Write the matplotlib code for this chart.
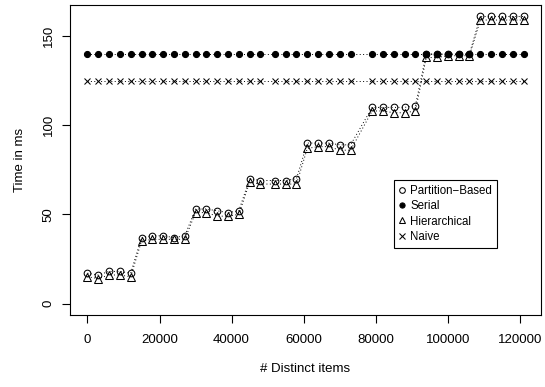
import matplotlib
matplotlib.use("Agg")
import matplotlib.pyplot as plt

plt.rcParams['font.family'] = ['Liberation Sans', 'DejaVu Sans']

# distinct items (x), in thousands
items_k = [0, 3, 6, 9, 12, 15, 18, 21, 24, 27,
           30, 33, 36, 39, 42, 45, 48, 52, 55, 58,
           61, 64, 67, 70, 73, 79, 82, 85, 88, 91,
           94, 97, 100, 103, 106, 109, 112, 115, 118, 121]
items = [k * 1000 for k in items_k]

partition = [17, 16, 18, 18, 17, 37, 38, 38, 37, 38,
             53, 53, 52, 51, 52, 70, 69, 69, 69, 70,
             90, 90, 90, 89, 89, 110, 110, 110, 110, 111,
             140, 140, 140, 140, 140, 161, 161, 161, 161, 161]
hierarchical = [15, 14, 16, 16, 15, 35, 36, 36, 36, 36,
                51, 51, 49, 49, 50, 68, 67, 67, 67, 67,
                87, 88, 88, 86, 86, 108, 108, 107, 107, 108,
                138, 138, 139, 139, 139, 159, 159, 159, 159, 159]
serial = [140] * len(items)
naive = [125] * len(items)

labels = ["Partition\u2212Based", "Serial", "Hierarchical", "Naive"]

fig = plt.figure(figsize=(5.45, 3.87), dpi=100)
ax = fig.add_axes([70 / 545, 1 - 315 / 387, 471 / 545, 310 / 387])

line_kw = dict(color="black", linestyle=(0, (1, 2.5)), linewidth=0.7)
ax.plot(items, partition, marker="o", markersize=4.8, markerfacecolor="none",
        markeredgewidth=0.75, label=labels[0], **line_kw)
ax.plot(items, serial, marker="o", markersize=4.4, markerfacecolor="black",
        markeredgewidth=0.75, label=labels[1], **line_kw)
ax.plot(items, hierarchical, marker="^", markersize=5.6, markerfacecolor="none",
        markeredgewidth=0.75, label=labels[2], **line_kw)
ax.plot(items, naive, marker="x", markersize=4.6, markeredgewidth=0.75,
        label=labels[3], **line_kw)

ax.set_xlim(-4840, 125840)
ax.set_ylim(-6.44, 167.44)
ax.set_xticks(range(0, 120001, 20000))
ax.set_yticks([0, 50, 100, 150])
ax.set_yticklabels(["0", "50", "100", "150"], rotation=90, va="center")
ax.tick_params(direction="out", length=6, width=0.8, labelsize=9.5, pad=8)
ax.tick_params(axis="y", pad=5)
for s in ax.spines.values():
    s.set_linewidth(0.8)

ax.set_xlabel("# Distinct items", fontsize=9.5, labelpad=12)
ax.set_ylabel("Time in ms", fontsize=9.5, labelpad=12)

leg = ax.legend(loc="upper left", bbox_to_anchor=(394 / 545, 1 - 180 / 387),
                bbox_transform=fig.transFigure, fontsize=8.3, handlelength=0.6,
                handletextpad=0.4, labelspacing=0.3, borderpad=0.4,
                borderaxespad=0, fancybox=False, framealpha=1, markerscale=0.85)
leg.get_frame().set_edgecolor("black")
leg.get_frame().set_linewidth(0.8)
for h in leg.legend_handles:
    h.set_linestyle("none")

fig.savefig("out.png", dpi=100)
